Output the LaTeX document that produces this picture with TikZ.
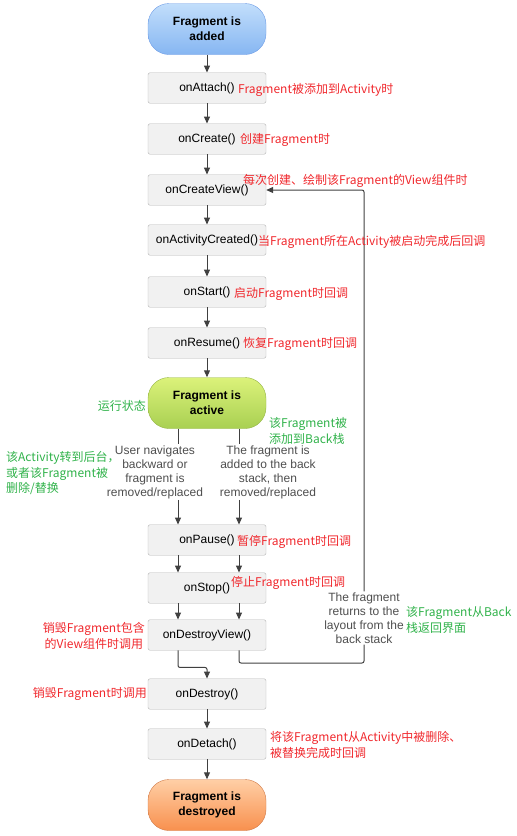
\documentclass[tikz,border=0pt]{standalone}
\usepackage{fontspec}
\setmainfont{Liberation Sans}
\newfontfamily\cjk{Noto Sans CJK SC}
\usetikzlibrary{arrows.meta}
\definecolor{boxfill}{HTML}{F1F1F1}
\definecolor{boxline}{HTML}{B4B4B4}
\definecolor{wire}{HTML}{404040}
\definecolor{note}{HTML}{4E4E4E}
\definecolor{redtxt}{HTML}{F0282D}
\definecolor{greentxt}{HTML}{30B24A}
\definecolor{blueline}{HTML}{6E9CE6}
\definecolor{bluetop}{HTML}{C2DEFB}
\definecolor{bluebot}{HTML}{86B6F2}
\definecolor{greenline}{HTML}{94B444}
\definecolor{greentop}{HTML}{DCF27A}
\definecolor{greenbot}{HTML}{A8D052}
\definecolor{orangeline}{HTML}{D07A48}
\definecolor{orangetop}{HTML}{FFCFA6}
\definecolor{orangebot}{HTML}{F8904E}
\begin{document}
\begin{tikzpicture}[x=1pt,y=-1pt,
  box/.style={draw=boxline, fill=boxfill, rounded corners=2pt, minimum width=118pt, minimum height=30.5pt, inner sep=0pt, font=\fontsize{12}{14}\selectfont},
  stage/.style={draw=#1line, top color=#1top, bottom color=#1bot, rounded corners=21pt, minimum width=118pt, minimum height=51pt, align=center, font=\bfseries\fontsize{12}{15}\selectfont},
  gray/.style={text=note, align=center, inner sep=1pt, font=\fontsize{12}{14}\selectfont},
  red/.style={text=redtxt, inner sep=0pt, font=\cjk\fontsize{12}{15.5}\selectfont},
  green/.style={text=greentxt, inner sep=0pt, font=\cjk\fontsize{12}{15.5}\selectfont},
  line/.style={draw=wire, line width=1pt, rounded corners=2pt},
  arr/.style={line, -{Triangle[length=7pt,width=6pt]}}]
  \useasboundingbox (0,0) rectangle (517,836);
  \node[stage=blue] (add) at (207,29) {Fragment is\\added};
  \node[box] (att) at (207,88) {onAttach()};
  \node[box] (cre) at (207,139) {onCreate()};
  \node[box] (cv) at (207,190) {onCreateView()};
  \node[box] (ac) at (207,240) {onActivityCreated()};
  \node[box] (st) at (207,292) {onStart()};
  \node[box] (re) at (207,343) {onResume()};
  \node[stage=green] (act) at (207,403) {Fragment is\\active};
  \node[gray] (lt) at (155,472) {User navigates\\backward or\\fragment is\\removed/replaced};
  \node[gray] (rt) at (268,472) {The fragment is\\added to the back\\stack, then\\removed/replaced};
  \node[box] (pa) at (207,540) {onPause()};
  \node[box] (sp) at (207,588) {onStop()};
  \node[box] (dv) at (207,635) {onDestroyView()};
  \node[box] (de) at (207,694) {onDestroy()};
  \node[box] (dt) at (207,744) {onDetach()};
  \node[stage=orange] (dy) at (207,805) {Fragment is\\destroyed};
  \node[gray] (bk) at (364,618) {The fragment\\returns to the\\layout from the\\back stack};
  \coordinate (l) at (178,0);
  \coordinate (r) at (239,0);
  \coordinate (lp) at (364,663);
  \draw[arr] (add) -- (att);
  \draw[arr] (att) -- (cre);
  \draw[arr] (cre) -- (cv);
  \draw[arr] (cv) -- (ac);
  \draw[arr] (ac) -- (st);
  \draw[arr] (st) -- (re);
  \draw[arr] (re) -- (act);
  \draw[line] (act.south -| l) -- (lt.north -| l);
  \draw[line] (act.south -| r) -- (rt.north -| r);
  \draw[arr] (lt.south -| l) -- (pa.north -| l);
  \draw[arr] (rt.south -| r) -- (pa.north -| r);
  \draw[arr] (pa.south -| l) -- (sp.north -| l);
  \draw[arr] (pa.south -| r) -- (sp.north -| r);
  \draw[arr] (sp.south -| l) -- (dv.north -| l);
  \draw[arr] (sp.south -| r) -- (dv.north -| r);
  \draw[arr] (dv.south -| l) |- ([yshift=-17pt]dv.south) -- (de.north);
  \draw[line] (dv.south -| r) |- (lp) -- (bk.south);
  \draw[arr] (bk.north) |- (cv.east);
  \draw[arr] (de) -- (dt);
  \draw[arr] (dt) -- (dy);
  \node[red, anchor=west] (a1) at (238,90) {Fragment被添加到Activity时};
  \node[red, anchor=west] (a2) at (240,140) {创建Fragment时};
  \node[red, anchor=west] (a3) at (243,181) {每次创建、绘制该Fragment的View组件时};
  \node[red, anchor=west] (a4) at (258,242) {当Fragment所在Activity被启动完成后回调};
  \node[red, anchor=west] (a5) at (234,294) {启动Fragment时回调};
  \node[red, anchor=west] (a6) at (243,344) {恢复Fragment时回调};
  \node[red, anchor=west] (a7) at (237,542) {暂停Fragment时回调};
  \node[red, anchor=west] (a8) at (231,583) {停止Fragment时回调};
  \node[red, anchor=east, align=center] (a9) at (145,636) {销毁Fragment包含\\的View组件时调用};
  \node[red, anchor=east] (a10) at (147,694) {销毁Fragment时调用};
  \node[red, anchor=west, align=left] (a11) at (270,745) {将该Fragment从Activity中被删除、\\被替换完成时回调};
  \node[green, anchor=east] (g1) at (146,406) {运行状态};
  \node[green, anchor=west, align=left] (g2) at (269,431) {该Fragment被\\添加到Back栈};
  \node[green, anchor=west, align=left] (g3) at (6,473) {该Activity转到后台，\\或者该Fragment被\\删除/替换};
  \node[green, anchor=west, align=left] (g4) at (406,620) {该Fragment从Back\\栈返回界面};
\end{tikzpicture}
\end{document}
